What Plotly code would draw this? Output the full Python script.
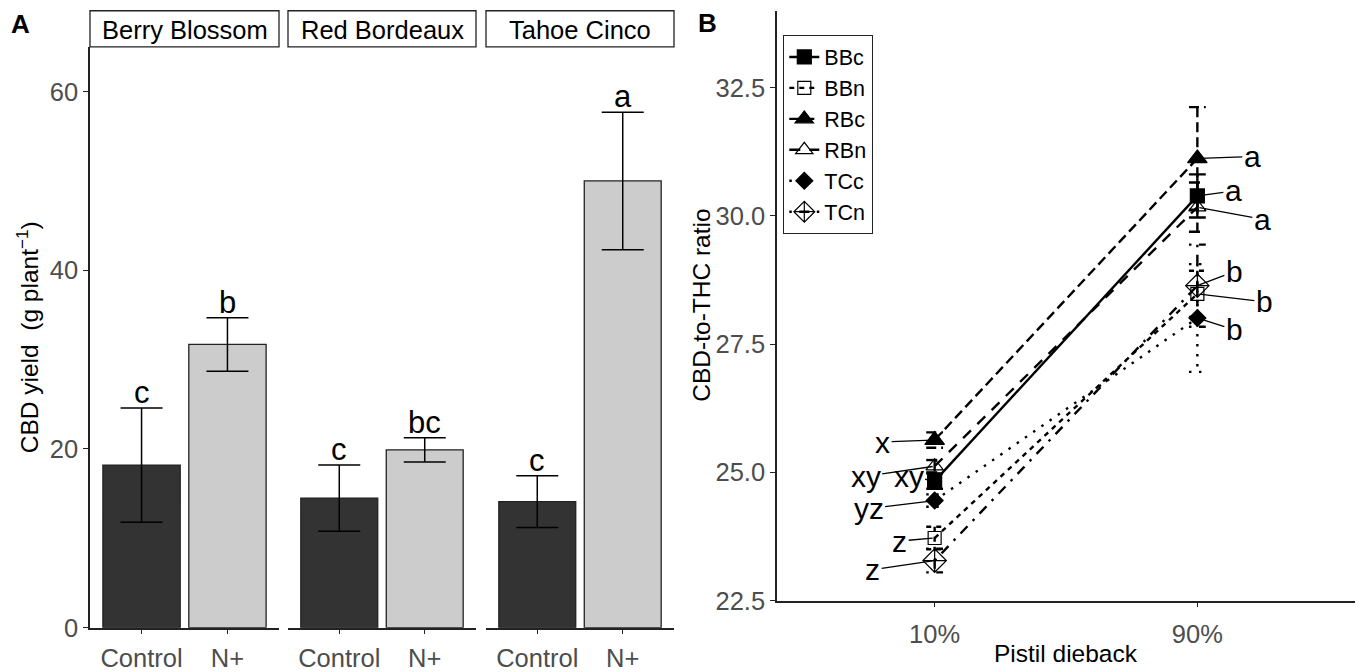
import plotly.graph_objects as go

# ---------------- data ----------------
cultivars = ["Berry Blossom", "Red Bordeaux", "Tahoe Cinco"]
treatments = ["Control", "N+"]
control_mean = [18.2, 14.5, 14.1]
control_se = [6.4, 3.7, 2.9]
nplus_mean = [31.7, 19.9, 50.0]
nplus_se = [3.0, 1.35, 7.7]
control_letters = ["c", "c", "c"]
nplus_letters = ["b", "bc", "a"]

series = ["BBc", "BBn", "RBc", "RBn", "TCc", "TCn"]
dieback = ["10%", "90%"]
ratio_10 = [24.83, 23.72, 25.63, 25.12, 24.45, 23.28]
ratio_90 = [30.39, 28.48, 31.12, 30.17, 28.01, 28.64]
se_10 = [0.15, 0.22, 0.15, 0.12, 0.12, 0.23]
se_90 = [0.42, 0.45, 1.0, 0.48, 1.05, 0.8]
letters_10 = ["xy", "z", "x", "xy", "yz", "z"]
letters_90 = ["a", "b", "a", "a", "b", "b"]

# ---------------- styles ----------------
W, H = 1361, 672
FONT = "Liberation Sans, Arial, sans-serif"
TICK_COL = "#4D4D4D"
LINE_COL = "#222222"
fills = ["#333333", "#CCCCCC"]
symbols = ["square", "square-open", "triangle-up", "triangle-up-open", "diamond", "diamond-cross-open"]
msizes = [14, 13, 17, 15, 13, 18]
dashes = ["solid", "5px,5px", "10px,5px", "11px,9px", "2.5px,7.5px", "2.5px,7.5px,10px,7.5px"]
# label offsets (pixels) for the 10% and 90% letters
off_10 = [(-26, -5), (-35, 3), (-52, 2), (-69, 10), (-66, 8), (-62, 9)]
off_90 = [(36, -5), (67, 8), (55, -2), (65, 12), (37, 12), (37, -14)]


def px(x):
    return x / W


def py(y):
    return 1 - y / H


def paper_text(x, y, text, size, angle=0):
    fig.add_annotation(x=px(x), y=py(y), xref="paper", yref="paper", text=text,
                       textangle=angle, showarrow=False, xanchor="center", yanchor="middle",
                       font=dict(size=size, color="black", family=FONT))


fig = go.Figure()

# ---------------- panel A ----------------
a_dom = [(90, 279), (288, 476), (486, 674)]
a_top, a_bot = 48, 642
for k, cult in enumerate(cultivars):
    sfx = "" if k == 0 else str(k + 1)
    means = [control_mean[k], nplus_mean[k]]
    ses = [control_se[k], nplus_se[k]]
    fig.add_trace(go.Bar(
        x=treatments, y=means, width=0.9,
        marker=dict(color=fills, line=dict(color=LINE_COL, width=1.3)),
        error_y=dict(type="data", array=ses, color="black", thickness=1.5, width=21),
        xaxis="x" + sfx, yaxis="y" + sfx, showlegend=False, hoverinfo="skip"))
    lets = [control_letters[k], nplus_letters[k]]
    for t, m, s, l in zip(treatments, means, ses, lets):
        fig.add_annotation(x=t, y=m + s, xref="x" + sfx, yref="y" + sfx, text=l,
                           showarrow=False, xanchor="center", yanchor="bottom", yshift=-4,
                           font=dict(size=31, color="black", family=FONT))
    # strip
    x0, x1 = a_dom[k]
    fig.add_shape(type="rect", xref="paper", yref="paper",
                  x0=px(x0), x1=px(x1), y0=py(a_top), y1=py(11),
                  line=dict(color=LINE_COL, width=1.3), fillcolor="white")
    paper_text((x0 + x1) / 2, (11 + a_top) / 2 + 1, cult, 25.5)

axis_common = dict(showline=True, linecolor=LINE_COL, linewidth=1.5, ticks="outside",
                   ticklen=5, tickwidth=1.3, tickcolor=LINE_COL, showgrid=False, zeroline=False,
                   tickfont=dict(size=25.5, color=TICK_COL, family=FONT))

layout = dict(width=W, height=H, margin=dict(l=0, r=0, t=0, b=0),
              plot_bgcolor="white", paper_bgcolor="white", bargap=0.1,
              font=dict(family=FONT))
for k in range(3):
    sfx = "" if k == 0 else str(k + 1)
    layout["xaxis" + sfx] = dict(domain=[px(a_dom[k][0]), px(a_dom[k][1])], anchor="y" + sfx,
                                 range=[-0.6, 1.6], type="category", ticklabelstandoff=2,
                                 **axis_common)
    if k == 0:
        layout["yaxis"] = dict(domain=[py(a_bot), py(a_top)], anchor="x", range=[0, 65],
                               tickvals=[0, 20, 40, 60], **axis_common)
    else:
        layout["yaxis" + sfx] = dict(domain=[py(a_bot), py(a_top)], anchor="x" + sfx,
                                     range=[0, 65], visible=False, matches="y")

# ---------------- panel B ----------------
bx0, bx1, by_top, by_bot = 777, 1355, 11, 614.3
xpos = [1, 2]
hw = 0.032
for i, s in enumerate(series):
    ys = [ratio_10[i], ratio_90[i]]
    es = [se_10[i], se_90[i]]
    ex, ey = [], []
    for x, y, e in zip(xpos, ys, es):
        ex += [x - hw, x + hw, None, x, x, None, x - hw, x + hw, None]
        ey += [y + e, y + e, None, y + e, y - e, None, y - e, y - e, None]
    fig.add_trace(go.Scatter(x=ex, y=ey, mode="lines", xaxis="x4", yaxis="y4",
                             line=dict(color="black", width=2.4, dash=dashes[i]),
                             showlegend=False, hoverinfo="skip"))
for i, s in enumerate(series):
    ys = [ratio_10[i], ratio_90[i]]
    fig.add_trace(go.Scatter(x=xpos, y=ys, mode="lines+markers", name=s, xaxis="x4", yaxis="y4",
                             line=dict(color="black", width=2.4, dash=dashes[i]),
                             marker=dict(symbol=symbols[i], size=msizes[i], color="black",
                                         line=dict(color="black", width=1.2))))
for i, s in enumerate(series):
    for x, y, lab, off in [(1, ratio_10[i], letters_10[i], off_10[i]),
                           (2, ratio_90[i], letters_90[i], off_90[i])]:
        fig.add_annotation(x=x, y=y, xref="x4", yref="y4", text=lab, showarrow=True,
                           arrowhead=0, arrowwidth=1.3, arrowcolor="black", ax=off[0], ay=off[1],
                           standoff=2, font=dict(size=30, color="black", family=FONT))

layout["xaxis4"] = dict(domain=[px(bx0), px(bx1)], anchor="y4", range=[0.4, 2.6],
                        tickvals=xpos, ticktext=dieback, ticklabelstandoff=5, **axis_common)
layout["yaxis4"] = dict(domain=[py(by_bot), py(by_top)], anchor="x4", range=[22.5, 34.0],
                        tickvals=[22.5, 25.0, 27.5, 30.0, 32.5], tickformat=".1f", **axis_common)
layout["legend"] = dict(x=px(783), y=py(36), xanchor="left", yanchor="top",
                        bgcolor="white", bordercolor=LINE_COL, borderwidth=1.3,
                        font=dict(size=21.5, color="black", family=FONT), itemwidth=30,
                        tracegroupgap=0)

fig.update_layout(**layout)

# axis titles & panel labels
paper_text(27, (a_top + a_bot) / 2, "CBD yield  (g plant<sup>\u22121</sup>)", 24.5, -90)
paper_text(702, (by_top + by_bot) / 2, "CBD-to-THC ratio", 24.5, -90)
paper_text((bx0 + bx1) / 2, 668, "Pistil dieback", 24.5)
paper_text(20, 25, "<b>A</b>", 26)
paper_text(707, 24, "<b>B</b>", 26)

fig.write_html("out.html")
